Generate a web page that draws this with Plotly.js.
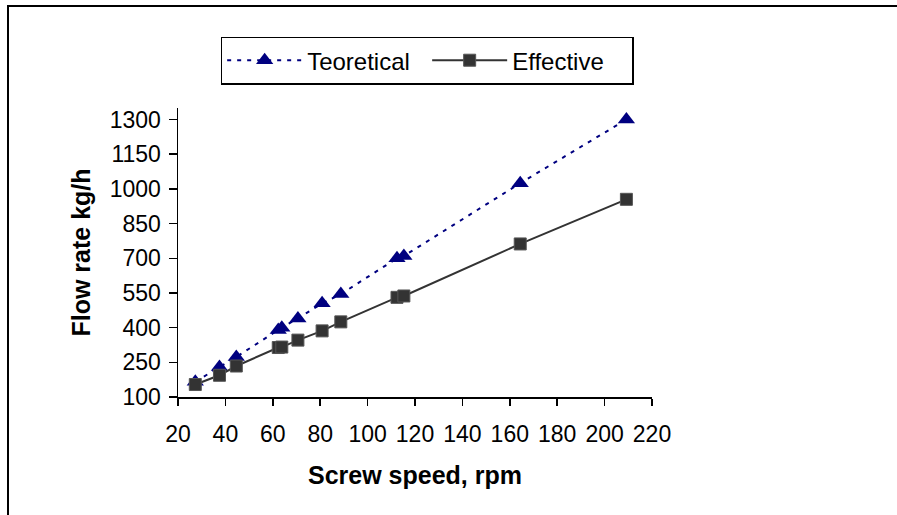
<!DOCTYPE html>
<html>
<head>
<meta charset="utf-8">
<script src="https://cdn.plot.ly/plotly-3.0.1.min.js"></script>
<style>
  html, body { margin: 0; padding: 0; background: #fff; }
  #wrap { position: relative; width: 897px; height: 515px; overflow: hidden; }
  #chart { width: 897px; height: 515px; }
  #frame { position: absolute; left: 7px; top: 5px; width: 900px; height: 520px;
           border-left: 2px solid #000; border-top: 2px solid #000; pointer-events: none; }
</style>
</head>
<body>
<div id="wrap">
  <div id="chart"></div>
  <div id="frame"></div>
</div>
<script>
// Screw speed (rpm)
const screwSpeed = [27.3, 37.5, 44.6, 62.3, 63.8, 70.6, 80.8, 88.7, 112.4, 115.3, 164.4, 209.2];
// Flow rate (kg/h)
const teoretical = [166, 230, 273, 390, 400, 440, 505, 545, 700, 710, 1025, 1300];
const effective  = [154, 194, 234, 314, 316, 346, 386, 425, 531, 537, 762, 955];

const seriesNames = ["Teoretical", "Effective"];
const xTitle = "Screw speed, rpm";
const yTitle = "Flow rate kg/h";

const font = "Liberation Sans, Arial, sans-serif";

const traces = [
  {
    x: screwSpeed, y: teoretical, name: seriesNames[0],
    type: "scatter", mode: "lines+markers",
    line: { color: "#000080", width: 2, dash: "4px,6px" },
    marker: { symbol: "triangle-up", size: 15, color: "#000080" }
  },
  {
    x: screwSpeed, y: effective, name: seriesNames[1],
    type: "scatter", mode: "lines+markers",
    line: { color: "#333333", width: 2 },
    marker: { symbol: "square", size: 12, color: "#333333", line: { color: "#555555", width: 1 } }
  }
];

const layout = {
  width: 897, height: 515,
  margin: { l: 178, r: 245, t: 108, b: 118 },
  paper_bgcolor: "#ffffff", plot_bgcolor: "#ffffff",
  font: { family: font, size: 23, color: "#000" },
  showlegend: true,
  legend: {
    orientation: "h", x: 0.09, y: 1.247, xanchor: "left", yanchor: "top",
    bordercolor: "#000", borderwidth: 1.5, bgcolor: "#fff",
    font: { family: font, size: 24, color: "#000" },
    itemwidth: 75,
    entrywidth: 115, entrywidthmode: "pixels"
  },
  xaxis: {
    range: [20, 220], tick0: 20, dtick: 20, tickmode: "linear",
    showgrid: false, zeroline: false,
    showline: true, linecolor: "#000", linewidth: 1.5,
    ticks: "outside", ticklen: 7, tickwidth: 1.5, tickcolor: "#000",
    ticklabelstandoff: 9,
    tickfont: { family: font, size: 23, color: "#000" },
    title: { text: xTitle, font: { family: font, size: 25, color: "#000", weight: "bold" }, standoff: 20 }
  },
  yaxis: {
    range: [100, 1350], tick0: 100, dtick: 150, tickmode: "linear",
    showgrid: false, zeroline: false,
    showline: true, linecolor: "#000", linewidth: 1.5,
    ticks: "outside", ticklen: 8, tickwidth: 1.5, tickcolor: "#000",
    ticklabelstandoff: 3,
    tickfont: { family: font, size: 23, color: "#000" },
    title: { text: yTitle, font: { family: font, size: 25, color: "#000", weight: "bold" }, standoff: 12 }
  }
};

Plotly.newPlot("chart", traces, layout, { displayModeBar: false, staticPlot: true });
</script>
</body>
</html>
